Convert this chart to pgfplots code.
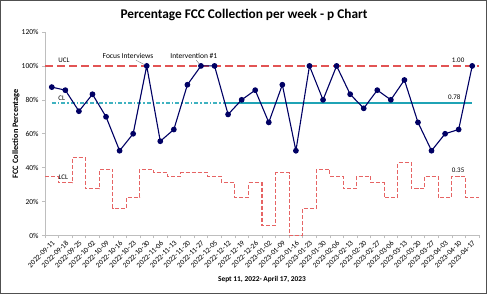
\documentclass[border=0pt]{standalone}
\usepackage{pgfplots}
\pgfplotsset{compat=1.18}
\usepackage{pgfplotstable}
\usepackage{fontspec}
\setmainfont{Carlito}

\definecolor{pnavy}{RGB}{0,0,100}
\definecolor{uclred}{RGB}{226,84,84}
\definecolor{lclred}{RGB}{230,100,100}
\definecolor{clteal}{HTML}{1FA3B5}
\definecolor{cldash}{HTML}{3FB2C0}
\definecolor{axisgray}{RGB}{190,190,190}
\definecolor{framegray}{RGB}{80,80,80}

% weekly proportion of FCC collected (percent) and lower control limit
\pgfplotstableread{
x   p     lcl
0.5 nan   35
1   87.5  35
2   85.7  31
3   73.3  46
4   83.3  27.5
5   70.0  39
6   50.0  16
7   60.0  22.5
8   100   39
9   55.6  37
10  62.5  35
11  88.9  37
12  100   37
13  100   35
14  71.4  31
15  80.0  22.5
16  85.7  31
17  66.7  6
18  88.9  37
19  50.0  0
20  100   16
21  80.0  39
22  100   35
23  83.3  27.5
24  75.0  35
25  85.7  31
26  80.0  22.5
27  91.7  43
28  66.7  27.5
29  50.0  35
30  60.0  22.5
31  62.5  35
32  100   22.5
32.5 nan  22.5
}\pchart

% upper control limit and centre line (baseline part, later part)
\pgfplotstableread{
x    y
0.5  100
32.5 100
}\ucl
\pgfplotstableread{
x    y
1    78
13.8 78
}\clbase
\pgfplotstableread{
x    y
13.8 78
32   78
}\cllater

\begin{document}
\begin{tikzpicture}
\useasboundingbox (0pt,0pt) rectangle (487pt,294pt);
\draw[line width=1.2pt, framegray] (0.6pt,0.6pt) rectangle (486.4pt,293.4pt);
\node[font=\bfseries\fontsize{13.3}{15}\selectfont] at (244pt,279pt)
  {Percentage FCC Collection per week - p Chart};
\begin{axis}[
  at={(45pt,58.5pt)}, anchor=south west, scale only axis,
  width=434pt, height=203.5pt,
  xmin=0.5, xmax=32.5, ymin=0, ymax=120,
  axis x line*=bottom, axis y line*=left,
  axis line style={draw=axisgray, line width=0.6pt},
  ytick={0,20,...,120},
  yticklabel={\pgfmathprintnumber{\tick}\%},
  /pgf/number format/assume math mode=true,
  yticklabel style={font=\fontsize{7.5}{8}\selectfont},
  xtick={1,...,32},
  xticklabels={2022-09-11,2022-09-18,2022-09-25,2022-10-02,2022-10-09,2022-10-16,2022-10-23,2022-10-30,2022-11-06,2022-11-13,2022-11-20,2022-11-27,2022-12-05,2022-12-12,2022-12-19,2022-12-26,2023-01-02,2023-01-09,2023-01-16,2023-01-23,2023-01-30,2023-02-06,2023-02-13,2023-02-20,2023-02-27,2023-03-06,2023-03-13,2023-03-20,2023-03-27,2023-04-03,2023-04-10,2023-04-17},
  xticklabel style={rotate=45, anchor=north east, font=\fontsize{7.4}{8}\selectfont, inner sep=1pt},
  minor xtick={0.5,1.5,...,32.5},
  every major x tick/.style={draw=none},
  tick align=outside, major tick length=3pt, minor tick length=3pt,
  tick style={draw=axisgray, line width=0.6pt},
  every axis y label/.style={at={(axis description cs:0,0.5)}, xshift=-29pt, rotate=90, anchor=center, font=\bfseries\fontsize{8.3}{9}\selectfont},
  ylabel={FCC Collection Percentage},
  every axis x label/.style={at={(axis description cs:0.5,0)}, yshift=-43.5pt, anchor=center, font=\bfseries\fontsize{7.4}{8}\selectfont},
  xlabel={Sept 11, 2022- April 17, 2023},
  clip=false,
]
\addplot[color=uclred, line width=1.4pt, dash pattern=on 8pt off 4pt] table[x=x, y=y] {\ucl};
\addplot[color=cldash, line width=1.5pt, dash pattern=on 4pt off 2pt on 1.5pt off 2pt] table[x=x, y=y] {\clbase};
\addplot[color=clteal, line width=1.6pt] table[x=x, y=y] {\cllater};
% lower control limit, varying with the weekly sample size
\addplot[color=lclred, line width=1.05pt, dash pattern=on 4pt off 2pt, const plot mark mid] table[x=x, y=lcl] {\pchart};
% weekly proportions
\addplot[color=pnavy, line width=1.1pt, mark=*, mark size=2.3pt, mark options={fill=pnavy, draw=pnavy, solid}] table[x=x, y=p] {\pchart};

\node[font=\fontsize{7}{8}\selectfont] at (axis cs:1.9,103.1) {UCL};
\node[font=\fontsize{7}{8}\selectfont] at (axis cs:1.73,81) {CL};
\node[font=\fontsize{7}{8}\selectfont] at (axis cs:1.85,34.1) {LCL};
\node[font=\fontsize{7}{8}\selectfont] at (axis cs:30.96,103.1) {1.00};
\node[font=\fontsize{7}{8}\selectfont] at (axis cs:30.68,81.3) {0.78};
\node[font=\fontsize{7}{8}\selectfont] at (axis cs:30.96,38.2) {0.35};

\node[font=\fontsize{7.5}{8}\selectfont] at (axis cs:6.62,105.9) {Focus Interviews};
\draw[gray, line width=0.4pt] (axis cs:7.2,103.4) -- (axis cs:7.8,100.9);
\node[font=\fontsize{7.5}{8}\selectfont] at (axis cs:11.47,105.9) {Intervention \#1};
\draw[gray, line width=0.4pt] (axis cs:11.65,103.4) -- (axis cs:11.9,100.9);
\end{axis}
\end{tikzpicture}
\end{document}
